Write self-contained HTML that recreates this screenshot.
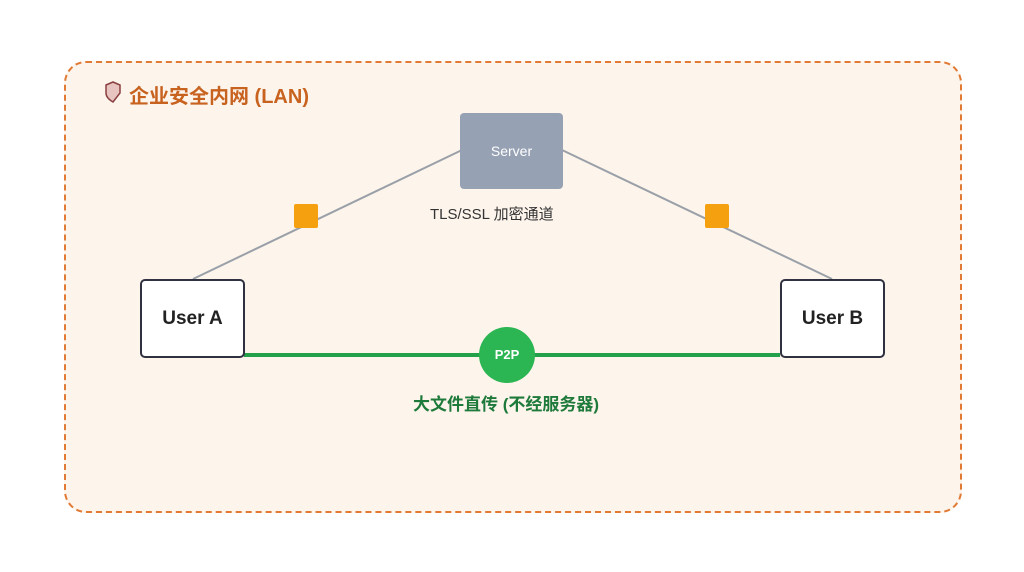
<!DOCTYPE html>
<html><head><meta charset="utf-8"><style>
body{margin:0;width:1024px;height:572px;background:#fff;position:relative;overflow:hidden;font-family:"Liberation Sans","Noto Sans CJK SC",sans-serif}
.abs{position:absolute}
</style></head><body>
<div class="abs" style="left:64px;top:61px;width:894px;height:448px;border:2px dashed #e07a34;border-radius:22px;background:#fdf4ec"></div>
<svg class="abs" style="left:0;top:0" width="1024" height="572">
<line x1="193" y1="279" x2="462" y2="150" stroke="#9aa0a8" stroke-width="2"/>
<line x1="562" y1="150" x2="832" y2="279" stroke="#9aa0a8" stroke-width="2"/>
<line x1="244" y1="355" x2="780" y2="355" stroke="#22a04a" stroke-width="4"/>
<rect x="294" y="204" width="24" height="24" rx="2" fill="#f5a00f"/>
<rect x="705" y="204" width="24" height="24" rx="2" fill="#f5a00f"/>
<circle cx="507" cy="355" r="28" fill="#2cb553"/>
<path d="M106 85 L113 82 L120 85 L120 93 Q113 102 113 102 Q106 98 106 93Z" fill="#e8c4c0" stroke="#8a4040" stroke-width="1.5"/>
</svg>
<div class="abs" style="left:129px;top:80px;font-size:20px;font-weight:bold;color:#c8621f">企业安全内网 (LAN)</div>
<div class="abs" style="left:460px;top:113px;width:103px;height:76px;background:#97a1b4;border-radius:4px;color:#fff;font-size:14px;text-align:center;line-height:76px">Server</div>
<div class="abs" style="left:430px;top:203px;font-size:15px;color:#333">TLS/SSL 加密通道</div>
<div class="abs" style="left:140px;top:279px;width:101px;height:75px;border:2px solid #2f3140;border-radius:5px;background:#fff;font-size:19px;font-weight:bold;color:#222;text-align:center;line-height:75px">User A</div>
<div class="abs" style="left:780px;top:279px;width:101px;height:75px;border:2px solid #2f3140;border-radius:5px;background:#fff;font-size:19px;font-weight:bold;color:#222;text-align:center;line-height:75px">User B</div>
<div class="abs" style="left:479px;top:347px;width:56px;text-align:center;font-size:13px;font-weight:bold;color:#fff">P2P</div>
<div class="abs" style="left:413px;top:390px;font-size:17px;font-weight:bold;color:#1e7a3a">大文件直传 (不经服务器)</div>
</body></html>
